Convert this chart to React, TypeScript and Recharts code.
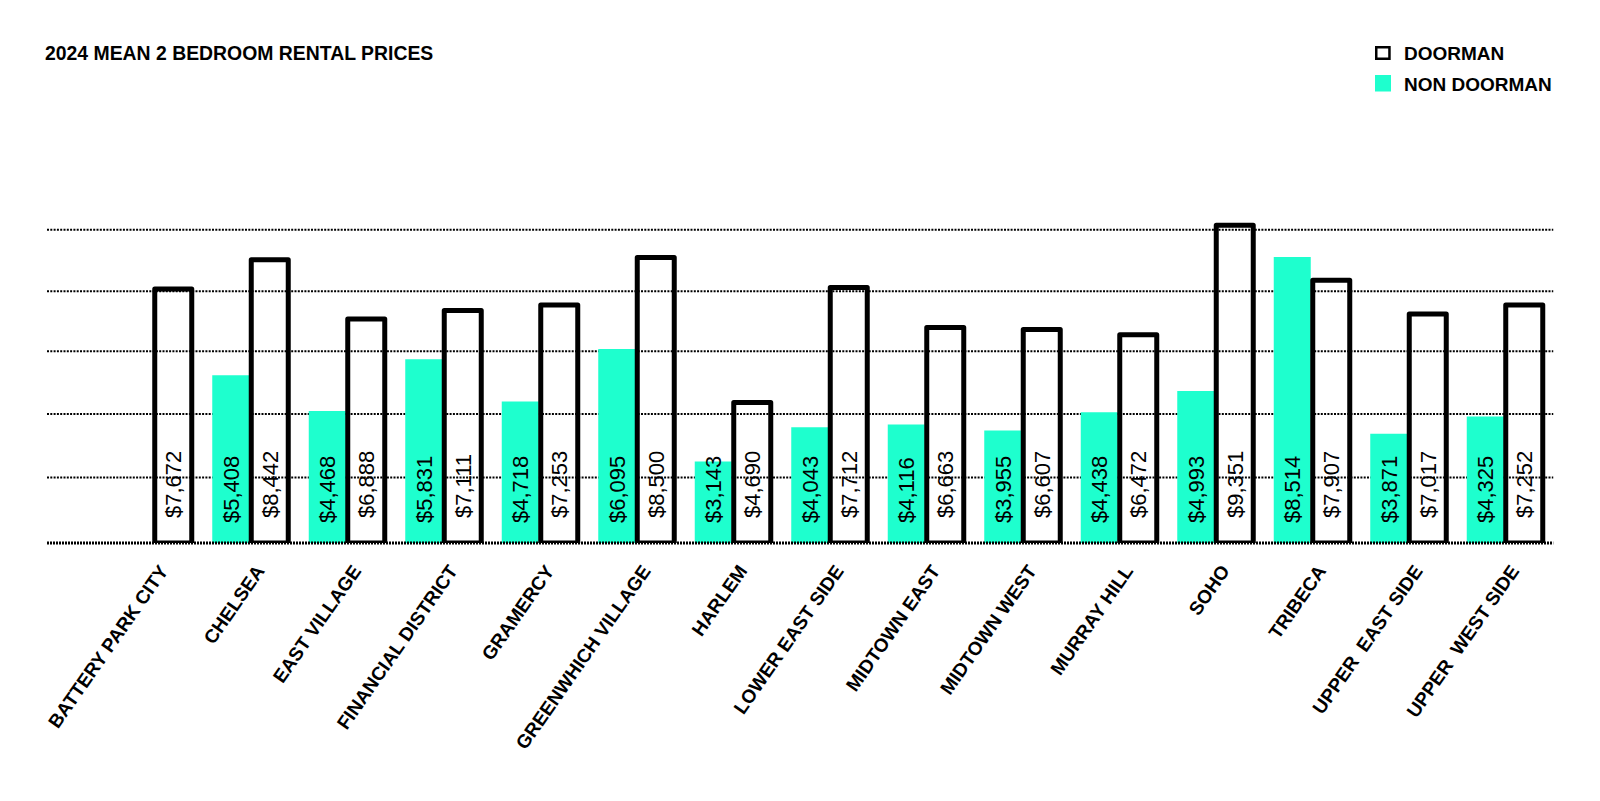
import React from 'react';
import { BarChart, Bar, XAxis, YAxis, CartesianGrid, Legend, LabelList } from 'recharts';

const categories = [
  'BATTERY PARK CITY', 'CHELSEA', 'EAST VILLAGE', 'FINANCIAL DISTRICT', 'GRAMERCY',
  'GREENWHICH VILLAGE', 'HARLEM', 'LOWER EAST SIDE', 'MIDTOWN EAST', 'MIDTOWN WEST',
  'MURRAY HILL', 'SOHO', 'TRIBECA', 'UPPER  EAST SIDE', 'UPPER  WEST SIDE',
];
const doorman = [7672, 8442, 6888, 7111, 7253, 8500, 4690, 7712, 6663, 6607, 6472, 9351, 7907, 7017, 7252];
const nonDoorman: (number | null)[] = [null, 5408, 4468, 5831, 4718, 6095, 3143, 4043, 4116, 3955, 4438, 4993, 8514, 3871, 4325];
const gridTicks = [2720, 4390, 6040, 7615, 9230];
const yDomain: [number, number] = [1000, 10000];

const title = '2024 MEAN 2 BEDROOM RENTAL PRICES';
const TEAL = '#1effce';
const FONT = '"Liberation Sans", Arial, Helvetica, sans-serif';

const data = categories.map((name, i) => ({
  name,
  doorman: doorman[i],
  nonDoorman: nonDoorman[i],
}));

const fmt = (v: number) => '$' + v.toLocaleString('en-US');

const makeLabel = (off: number) => (props: any) => {
  const { x, y, width, height, value } = props;
  if (value === null || value === undefined) return null;
  const cx = Number(x) + Number(width) / 2 + 8;
  const by = Number(y) + Number(height) - off;
  return (
    <text
      x={cx}
      y={by}
      transform={`rotate(-90 ${cx} ${by})`}
      fontSize={22}
      fontFamily={FONT}
      fill="#000"
      textAnchor="start"
    >
      {fmt(Number(value))}
    </text>
  );
};

const XTick = (props: any) => {
  const { x, y, payload } = props;
  const ax = Number(x) + 15;
  const ay = Number(y) + 28;
  return (
    <text
      x={ax}
      y={ay}
      transform={`rotate(-55 ${ax} ${ay})`}
      textAnchor="end"
      fontSize={19}
      fontWeight="bold"
      fontFamily={FONT}
      fill="#000"
      style={{ whiteSpace: 'pre' }}
    >
      {payload.value}
    </text>
  );
};

const LegendContent = () => (
  <svg width={200} height={60} style={{ display: 'block' }}>
    <rect x={6.25} y={7.25} width={13.2} height={11.5} fill="#fff" stroke="#000" strokeWidth={2.5} />
    <text x={34} y={20} fontSize={19} fontWeight="bold" fontFamily={FONT} fill="#000">DOORMAN</text>
    <rect x={5} y={35} width={16} height={16.5} fill={TEAL} />
    <text x={34} y={51} fontSize={19} fontWeight="bold" fontFamily={FONT} fill="#000">NON DOORMAN</text>
  </svg>
);

export default function App() {
  return (
    <div style={{ position: 'absolute', left: 0, top: 0, width: 1600, height: 801, background: '#fff' }}>
      <svg width={600} height={80} style={{ position: 'absolute', left: 0, top: 0 }}>
        <text x={45} y={60} fontSize={19.4} fontWeight="bold" fontFamily={FONT} fill="#000">{title}</text>
      </svg>
      <BarChart
        width={1600}
        height={801}
        data={data}
        margin={{ top: 200.5, right: 46.75, left: 47, bottom: 58 }}
        barSize={37}
        barGap={2}
      >
        <CartesianGrid vertical={false} syncWithTicks stroke="#000" strokeWidth={2} strokeDasharray="2 1.3" />
        <XAxis
          dataKey="name"
          height={200}
          interval={0}
          padding={{ left: 58.75, right: 0 }}
          tickLine={false}
          tickSize={0}
          tickMargin={0}
          axisLine={{ stroke: '#000', strokeWidth: 3, strokeDasharray: '2 1' }}
          tick={<XTick />}
        />
        <YAxis hide domain={yDomain} ticks={gridTicks} type="number" allowDataOverflow />
        <Legend
          layout="vertical"
          align="center"
          verticalAlign="middle"
          content={<LegendContent />}
          wrapperStyle={{ left: 1370, top: 40, width: 200, height: 60 }}
        />
        <Bar dataKey="nonDoorman" name="NON DOORMAN" fill={TEAL} isAnimationActive={false}>
          <LabelList dataKey="nonDoorman" content={makeLabel(20)} />
        </Bar>
        <Bar
          dataKey="doorman"
          name="DOORMAN"
          fill="none"
          stroke="#000"
          strokeWidth={5}
          strokeLinejoin="round"
          isAnimationActive={false}
        >
          <LabelList dataKey="doorman" content={makeLabel(25)} />
        </Bar>
      </BarChart>
    </div>
  );
}
